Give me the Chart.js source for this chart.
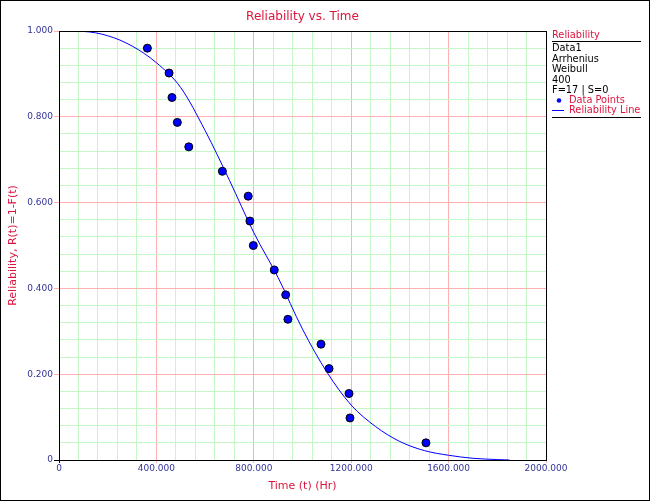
<!DOCTYPE html>
<html>
<head>
<meta charset="utf-8">
<script src="https://cdn.jsdelivr.net/npm/chart.js@4"></script>
<style>
  html, body { margin: 0; padding: 0; background: #fff; }
  #wrap { width: 650px; height: 501px; }
</style>
</head>
<body>
<div id="wrap"><canvas id="chart1" width="650" height="501"></canvas></div>
<script>
// failure times (hr) and median-rank reliability
const pointTimes = [363, 452, 464, 486, 533, 671, 777, 784, 798, 884, 931, 940, 1076, 1109, 1191, 1195, 1507];
const pointRel = [0.960, 0.902, 0.845, 0.787, 0.730, 0.673, 0.615, 0.557, 0.500, 0.443, 0.385, 0.328, 0.270, 0.213, 0.155, 0.098, 0.040];

// reliability line, read at every 100 hr
const lineTimes = [0, 100, 200, 300, 400, 500, 600, 700, 800, 900, 1000, 1100, 1200, 1300, 1400, 1500, 1600, 1700, 1800, 1850];
const lineRel = [1.000, 0.999, 0.989, 0.965, 0.926, 0.868, 0.768, 0.652, 0.530, 0.425, 0.305, 0.205, 0.128, 0.078, 0.043, 0.022, 0.011, 0.004, 0.001, 0.000];

const legendLines = ["Data1", "Arrhenius", "Weibull", "400", "F=17 | S=0"];

const font = "DejaVu Sans";
const red = "#dc143c";
const tickBlue = "#333399";
const majorGrid = "#ffb0b0";
const minorGrid = "#c6f7c6";

function isMajor(v, step) {
  const k = v / step;
  return Math.abs(k - Math.round(k)) < 1e-6;
}

const framePlugin = {
  id: "frame",
  beforeDraw(chart) {
    const c = chart.ctx;
    c.save();
    c.fillStyle = "#fff";
    c.fillRect(0, 0, chart.width, chart.height);
    c.restore();
  },
  afterDraw(chart) {
    const c = chart.ctx;
    const a = chart.chartArea;
    c.save();
    c.strokeStyle = "#000";
    c.lineWidth = 1;
    c.strokeRect(Math.round(a.left) + 0.5, Math.round(a.top) + 0.5, Math.round(a.right - a.left), Math.round(a.bottom - a.top));
    c.strokeRect(0.5, 0.5, chart.width - 1, chart.height - 1);

    // side legend
    const x0 = 552;
    c.font = "9.8px '" + font + "'";
    c.textBaseline = "middle";
    c.textAlign = "left";
    c.fillStyle = red;
    c.fillText("Reliability", x0, 35.5);
    c.strokeStyle = "#000";
    c.beginPath();
    c.moveTo(x0, 41.5); c.lineTo(641, 41.5);
    c.moveTo(x0, 117.5); c.lineTo(641, 117.5);
    c.stroke();
    c.fillStyle = "#000";
    legendLines.forEach((t, i) => c.fillText(t, x0, 48.5 + i * 10.5));
    c.fillStyle = "#0000ff";
    c.beginPath();
    c.arc(559, 100.5, 2.3, 0, Math.PI * 2);
    c.fill();
    c.strokeStyle = "#0000ff";
    c.beginPath();
    c.moveTo(x0, 110.5); c.lineTo(564, 110.5);
    c.stroke();
    c.fillStyle = red;
    c.fillText("Data Points", 569, 100.5);
    c.fillText("Reliability Line", 569, 110.5);
    c.restore();
  }
};

const ctx = document.getElementById("chart1").getContext("2d");
const myChart = new Chart(ctx, {
  type: "scatter",
  data: {
    datasets: [
      {
        label: "Data Points",
        data: pointTimes.map((t, i) => ({ x: t, y: pointRel[i] })),
        pointRadius: 4,
        pointHoverRadius: 4,
        pointBackgroundColor: "#0000ff",
        pointBorderColor: "#000",
        pointBorderWidth: 1,
        showLine: false,
        order: 1,
      },
      {
        label: "Reliability Line",
        data: lineTimes.map((t, i) => ({ x: t, y: lineRel[i] })),
        showLine: true,
        pointRadius: 0,
        borderColor: "#0000ff",
        borderWidth: 1,
        cubicInterpolationMode: "monotone",
        order: 2,
      },
    ],
  },
  options: {
    responsive: false,
    animation: false,
    devicePixelRatio: 1,
    layout: { padding: { left: 0, right: 104, top: 0, bottom: 0 } },
    plugins: {
      legend: { display: false },
      tooltip: { enabled: false },
      title: {
        display: true,
        text: "Reliability vs. Time",
        color: red,
        fullSize: false,
        font: { family: font, size: 12, weight: "normal" },
        padding: { top: 10, bottom: 6.6 },
      },
    },
    scales: {
      x: {
        type: "linear",
        min: 0,
        max: 2000,
        afterFit: (s) => { s.height = 41; },
        border: { color: "#000", width: 1 },
        grid: {
          color: (c) => (isMajor(c.tick.value, 400) ? majorGrid : minorGrid),
          tickColor: (c) => (c.tick.value === 0 ? "#000" : isMajor(c.tick.value, 400) ? majorGrid : "rgba(0,0,0,0)"),
          tickLength: 3,
        },
        ticks: {
          stepSize: 80,
          autoSkip: false,
          maxRotation: 0,
          padding: 0,
          color: tickBlue,
          font: { family: font, size: 9 },
          callback: (v) => (v === 0 ? "0" : isMajor(v, 400) ? v.toFixed(3) : ""),
        },
        title: {
          display: true,
          text: "Time (t) (Hr)",
          color: red,
          font: { family: font, size: 11 },
          padding: { top: 0, bottom: 8.4 },
        },
      },
      y: {
        type: "linear",
        min: 0,
        max: 1,
        afterFit: (s) => { s.width = 59; },
        border: { color: "#000", width: 1 },
        grid: {
          color: (c) => (isMajor(c.tick.value, 0.2) ? majorGrid : minorGrid),
          tickColor: (c) => (c.tick.value === 0 ? "#000" : isMajor(c.tick.value, 0.2) ? majorGrid : "rgba(0,0,0,0)"),
          tickLength: 5,
        },
        ticks: {
          stepSize: 0.04,
          autoSkip: false,
          padding: 1,
          color: tickBlue,
          font: { family: font, size: 9 },
          callback: (v) => (v === 0 ? "0" : isMajor(v, 0.2) ? v.toFixed(3) : ""),
        },
        title: {
          display: true,
          text: "Reliability, R(t)=1-F(t)",
          color: red,
          font: { family: font, size: 11 },
          padding: { top: 7, bottom: 0 },
        },
      },
    },
  },
  plugins: [framePlugin],
});
</script>
</body>
</html>
